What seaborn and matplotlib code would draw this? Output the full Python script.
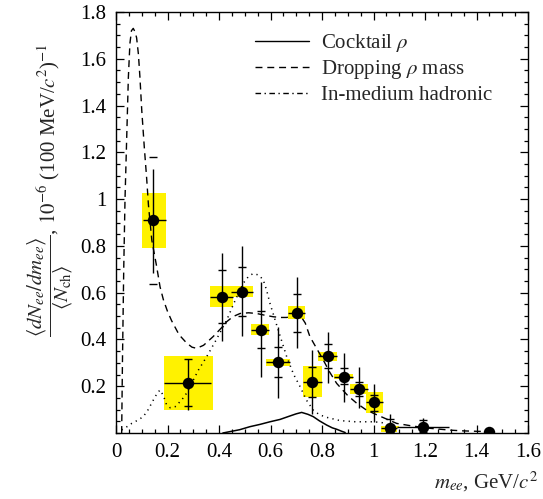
import numpy as np
import pandas as pd
import matplotlib
matplotlib.use("Agg")
import matplotlib.pyplot as plt
import seaborn as sns
from matplotlib.lines import Line2D
from matplotlib.ticker import MultipleLocator, FuncFormatter

# ---------------- data ----------------
# measured points
pt_x = [0.143, 0.278, 0.410, 0.490, 0.562, 0.630, 0.703, 0.761, 0.825, 0.884, 0.942, 1.003, 1.064, 1.194, 1.447]
pt_y = [0.910, 0.214, 0.580, 0.601, 0.440, 0.305, 0.514, 0.219, 0.329, 0.241, 0.188, 0.131, 0.020, 0.024, 0.003]
# horizontal bars (bin edges)
bin_lo = [0.103, 0.186, 0.365, 0.445, 0.523, 0.583, 0.667, 0.725, 0.786, 0.847, 0.909, 0.970, 1.028, 1.090, 1.447]
bin_hi = [0.194, 0.370, 0.453, 0.533, 0.595, 0.676, 0.734, 0.799, 0.857, 0.922, 0.977, 1.036, 1.093, 1.294, 1.447]
# systematic boxes
sys_xlo = [0.100, 0.186, 0.365, 0.445, 0.523, 0.583, 0.667, 0.725, 0.786, 0.847, 0.909, 0.970, 1.028, 1.090, 1.447]
sys_xhi = [0.194, 0.375, 0.453, 0.533, 0.595, 0.676, 0.734, 0.799, 0.857, 0.922, 0.977, 1.036, 1.093, 1.100, 1.447]
sys_ylo = [0.792, 0.098, 0.540, 0.580, 0.419, 0.288, 0.486, 0.152, 0.309, 0.229, 0.167, 0.084, 0.006, 0.020, 0.003]
sys_yhi = [1.024, 0.330, 0.628, 0.628, 0.466, 0.316, 0.543, 0.286, 0.346, 0.252, 0.209, 0.177, 0.030, 0.028, 0.003]
# vertical error lines (total) and caps (statistical)
tot_lo = [0.682, 0.098, 0.393, 0.415, 0.241, 0.148, 0.362, 0.081, 0.212, 0.131, 0.106, 0.048, 0.006, 0.006, 0.003]
tot_hi = [1.127, 0.316, 0.769, 0.798, 0.647, 0.454, 0.665, 0.355, 0.431, 0.340, 0.281, 0.208, 0.080, 0.065, 0.003]
cap_lo = [0.637, 0.116, 0.469, 0.500, 0.362, 0.241, 0.433, 0.152, 0.276, 0.209, 0.159, 0.094, 0.006, 0.006, 0.003]
cap_hi = [1.178, 0.316, 0.697, 0.711, 0.523, 0.369, 0.593, 0.283, 0.380, 0.276, 0.219, 0.162, 0.060, 0.056, 0.003]

# curves
cock_x = [0.415, 0.443, 0.48, 0.52, 0.56, 0.598, 0.637, 0.676, 0.70, 0.721, 0.745, 0.766, 0.79, 0.818, 0.84, 0.857, 0.875, 0.89]
cock_y = [0.0, 0.006, 0.014, 0.027, 0.037, 0.048, 0.058, 0.073, 0.082, 0.088, 0.080, 0.070, 0.052, 0.034, 0.022, 0.016, 0.008, 0.002]

drop_x = [0.022, 0.025, 0.030, 0.035, 0.041, 0.048, 0.054, 0.060, 0.067, 0.074, 0.080, 0.087, 0.093, 0.100, 0.110,
          0.119, 0.126, 0.139, 0.158, 0.171, 0.184, 0.200, 0.216, 0.245, 0.274, 0.295, 0.313, 0.340, 0.377, 0.410,
          0.430, 0.455, 0.482, 0.515, 0.546, 0.580, 0.611, 0.640, 0.663, 0.690, 0.715, 0.735, 0.753, 0.780, 0.805,
          0.830, 0.857, 0.900, 0.935, 0.970, 1.000, 1.050, 1.090, 1.150, 1.220, 1.300, 1.350, 1.440]
drop_y = [0.0, 0.30, 0.70, 1.00, 1.24, 1.52, 1.665, 1.72, 1.73, 1.715, 1.69, 1.62, 1.52, 1.38, 1.22,
          1.09, 0.975, 0.825, 0.711, 0.625, 0.57, 0.52, 0.48, 0.42, 0.385, 0.367, 0.362, 0.375, 0.412, 0.45,
          0.476, 0.498, 0.511, 0.514, 0.511, 0.503, 0.497, 0.494, 0.494, 0.50, 0.504, 0.47, 0.412, 0.36, 0.312,
          0.26, 0.212, 0.16, 0.127, 0.10, 0.084, 0.06, 0.041, 0.03, 0.02, 0.012, 0.009, 0.006]

had_x = [0.022, 0.040, 0.061, 0.085, 0.106, 0.125, 0.145, 0.160, 0.171, 0.184, 0.195, 0.210, 0.229, 0.255, 0.274,
         0.287, 0.320, 0.352, 0.390, 0.430, 0.460, 0.494, 0.515, 0.533, 0.555, 0.572, 0.585, 0.598, 0.630, 0.663,
         0.690, 0.715, 0.740, 0.766, 0.790, 0.818, 0.870, 0.930, 1.000, 1.030, 1.050]
had_y = [0.013, 0.025, 0.041, 0.055, 0.070, 0.100, 0.141, 0.170, 0.184, 0.160, 0.125, 0.108, 0.112, 0.141, 0.170,
         0.198, 0.269, 0.326, 0.400, 0.483, 0.560, 0.640, 0.670, 0.682, 0.675, 0.654, 0.610, 0.554, 0.440, 0.326,
         0.250, 0.198, 0.140, 0.098, 0.078, 0.067, 0.053, 0.048, 0.048, 0.045, 0.040]

legend_labels = [r"Cocktail $\rho$", r"Dropping $\rho$ mass", "In-medium hadronic"]
x_ticks = [0, 0.2, 0.4, 0.6, 0.8, 1.0, 1.2, 1.4, 1.6]
y_ticks = [0.2, 0.4, 0.6, 0.8, 1.0, 1.2, 1.4, 1.6, 1.8]

# ---------------- style ----------------
sns.set_style("ticks")
plt.rcParams["font.family"] = ["Liberation Serif", "DejaVu Serif"]
plt.rcParams["mathtext.fontset"] = "stix"
FS = 15

fig = plt.figure(figsize=(5.43, 4.99), dpi=100)
ax = fig.add_axes([116 / 543, 1 - 433 / 499, (528 - 116) / 543, (433 - 12) / 499])

yellow = "#FFF200"
pts = pd.DataFrame({"x": pt_x, "y": pt_y})

# systematic boxes
bx = np.array(sys_xlo); bw = np.array(sys_xhi) - bx
by = np.array(sys_ylo); bh = np.array(sys_yhi) - by
ax.bar(bx, bh, width=bw, bottom=by, align="edge", color=yellow, edgecolor="none", zorder=1)

# curves
sns.lineplot(x=cock_x, y=cock_y, ax=ax, color="black", lw=1.1, sort=False, zorder=2)
sns.lineplot(x=drop_x, y=drop_y, ax=ax, color="black", lw=1.0, sort=False, zorder=2,
             linestyle=(0, (5, 3.5)))
sns.lineplot(x=had_x, y=had_y, ax=ax, color="black", lw=1.1, sort=False, zorder=2,
             linestyle=(0, (0.8, 2.8)))

# error bars
px = np.array(pt_x); py = np.array(pt_y)
ax.errorbar(px, py, xerr=[px - np.array(bin_lo), np.array(bin_hi) - px], fmt="none",
            ecolor="black", elinewidth=1.0, capsize=0, zorder=3)
tmid = (np.array(tot_lo) + np.array(tot_hi)) / 2
ax.errorbar(px, tmid, yerr=(np.array(tot_hi) - np.array(tot_lo)) / 2, fmt="none",
            ecolor="black", elinewidth=1.0, capsize=0, zorder=3)
cmid = (np.array(cap_lo) + np.array(cap_hi)) / 2
ax.errorbar(px, cmid, yerr=(np.array(cap_hi) - np.array(cap_lo)) / 2, fmt="none",
            ecolor="black", elinewidth=0, capsize=3.0, capthick=1.0, zorder=3)

sns.scatterplot(data=pts, x="x", y="y", ax=ax, color="black", s=68, edgecolor="black",
                linewidth=0, zorder=4)

# axes
ax.set_xlim(0, 1.6)
ax.set_ylim(0, 1.8)
ax.set_xticks(x_ticks)
ax.set_yticks(y_ticks)
ax.xaxis.set_minor_locator(MultipleLocator(0.05))
ax.yaxis.set_minor_locator(MultipleLocator(0.05))
fmt = FuncFormatter(lambda v, p: ("%g" % round(v, 2)))
ax.xaxis.set_major_formatter(fmt)
ax.yaxis.set_major_formatter(fmt)
ax.tick_params(which="both", direction="in", top=True, right=True, colors="black",
               labelsize=FS, width=0.9)
ax.tick_params(which="major", length=6, pad=7)
ax.tick_params(which="minor", length=3)
for s in ax.spines.values():
    s.set_linewidth(1.0)
    s.set_color("black")
ax.set_xlabel("")
ax.set_ylabel("")

# legend
handles = [Line2D([], [], color="black", lw=1.0, linestyle="-"),
           Line2D([], [], color="black", lw=1.0, linestyle=(0, (5, 3.5))),
           Line2D([], [], color="black", lw=1.0, linestyle=(0, (4, 2.5, 1, 2.5)))]
ax.legend(handles, legend_labels, loc="upper left", bbox_to_anchor=(255 / 543, 1 - 32 / 499),
          bbox_transform=fig.transFigure, frameon=False, fontsize=FS, handlelength=2.6,
          handletextpad=0.55, labelspacing=0.2, borderpad=0, borderaxespad=0)

# axis titles
fig.text(538 / 543, 1 - 488 / 499, r"$m_{ee}$, GeV/$c^2$", ha="right", va="baseline", fontsize=FS)
fig.text(50 / 543, 1 - 190 / 499,
         r"$\dfrac{\langle dN_{ee}/dm_{ee}\rangle}{\langle N_{\mathrm{ch}}\rangle}$, $10^{-6}$ (100 MeV/$c^2$)$^{-1}$",
         rotation=90, ha="center", va="center", fontsize=FS)

fig.savefig("out.png", dpi=100)
